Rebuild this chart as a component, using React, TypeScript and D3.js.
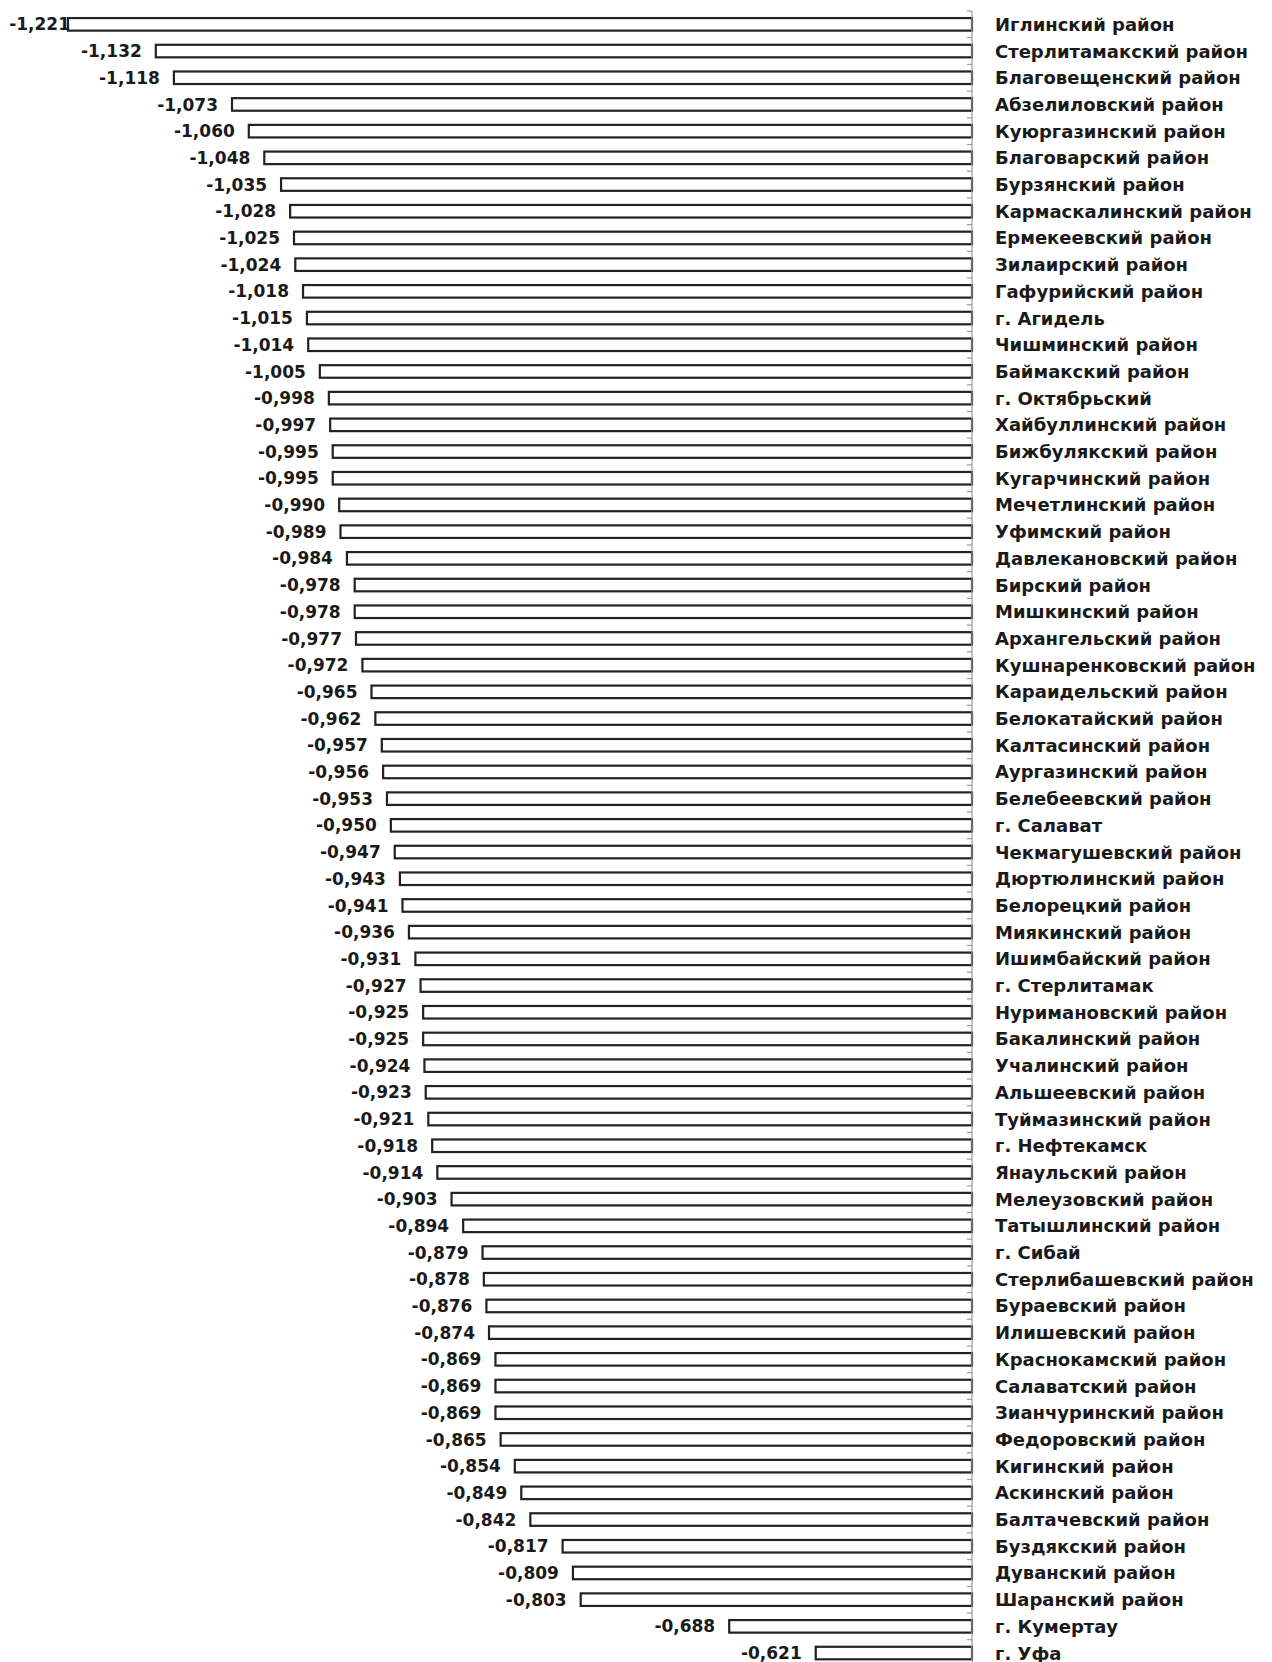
import React from 'react';
import * as d3 from 'd3';

const districts = [
  'Иглинский район', 'Стерлитамакский район', 'Благовещенский район', 'Абзелиловский район',
  'Куюргазинский район', 'Благоварский район', 'Бурзянский район', 'Кармаскалинский район',
  'Ермекеевский район', 'Зилаирский район', 'Гафурийский район', 'г. Агидель',
  'Чишминский район', 'Баймакский район', 'г. Октябрьский', 'Хайбуллинский район',
  'Бижбулякский район', 'Кугарчинский район', 'Мечетлинский район', 'Уфимский район',
  'Давлекановский район', 'Бирский район', 'Мишкинский район', 'Архангельский район',
  'Кушнаренковский район', 'Караидельский район', 'Белокатайский район', 'Калтасинский район',
  'Аургазинский район', 'Белебеевский район', 'г. Салават', 'Чекмагушевский район',
  'Дюртюлинский район', 'Белорецкий район', 'Миякинский район', 'Ишимбайский район',
  'г. Стерлитамак', 'Нуримановский район', 'Бакалинский район', 'Учалинский район',
  'Альшеевский район', 'Туймазинский район', 'г. Нефтекамск', 'Янаульский район',
  'Мелеузовский район', 'Татышлинский район', 'г. Сибай', 'Стерлибашевский район',
  'Бураевский район', 'Илишевский район', 'Краснокамский район', 'Салаватский район',
  'Зианчуринский район', 'Федоровский район', 'Кигинский район', 'Аскинский район',
  'Балтачевский район', 'Буздякский район', 'Дуванский район', 'Шаранский район',
  'г. Кумертау', 'г. Уфа',
];

const values = [
  -1.221, -1.132, -1.118, -1.073, -1.06, -1.048, -1.035, -1.028,
  -1.025, -1.024, -1.018, -1.015, -1.014, -1.005, -0.998, -0.997,
  -0.995, -0.995, -0.99, -0.989, -0.984, -0.978, -0.978, -0.977,
  -0.972, -0.965, -0.962, -0.957, -0.956, -0.953, -0.95, -0.947,
  -0.943, -0.941, -0.936, -0.931, -0.927, -0.925, -0.925, -0.924,
  -0.923, -0.921, -0.918, -0.914, -0.903, -0.894, -0.879, -0.878,
  -0.876, -0.874, -0.869, -0.869, -0.869, -0.865, -0.854, -0.849,
  -0.842, -0.817, -0.809, -0.803, -0.688, -0.621,
];

const xDomain = [-1.2, -0.5];

const locale = d3.formatLocale({ decimal: ',', thousands: ' ', grouping: [3], currency: ['', ''], minus: '-' });
const fmt = locale.format('.3f');

const App: React.FC = () => {
  const width = 1272;
  const height = 1662;
  const plot = { left: 68, right: 972, top: 11, bottom: 11 + 26.7 * districts.length };

  const x = d3.scaleLinear().domain(xDomain).range([plot.left, plot.right]);
  const y = d3.scaleBand<string>().domain(districts).range([plot.top, plot.bottom]).paddingInner(0.53).paddingOuter(0.265);
  const bw = y.bandwidth();
  const step = y.step();
  const font = '"DejaVu Sans", sans-serif';

  return (
    <svg width={width} height={height} style={{ position: 'absolute', left: 0, top: 0, background: '#fff' }}>
      {districts.map((d, i) => {
        const v = values[i];
        const x0 = Math.max(x(v), plot.left);
        const cy = (y(d) || 0) + bw / 2;
        return (
          <g key={d}>
            <rect x={x0} y={y(d)} width={plot.right - x0} height={bw} fill="#fff" stroke="#222" strokeWidth={2.2} />
            <text x={Math.max(x(v) - 14, plot.left + 2)} y={cy} dy="0.36em" textAnchor="end" fontFamily={font} fontWeight="bold" fontSize={17} fill="#1a1a1a">
              {fmt(v)}
            </text>
            <text x={995} y={cy} dy="0.36em" fontFamily={font} fontWeight="bold" fontSize={18} fill="#1a1a1a">
              {d}
            </text>
          </g>
        );
      })}
      <line x1={plot.right} x2={plot.right} y1={plot.top} y2={plot.bottom} stroke="#9a9a9a" strokeWidth={1.2} />
      {d3.range(districts.length + 1).map(i => (
        <line key={i} x1={plot.right - 5} x2={plot.right} y1={plot.top + i * step} y2={plot.top + i * step} stroke="#9a9a9a" strokeWidth={1.2} />
      ))}
    </svg>
  );
};

export default App;
